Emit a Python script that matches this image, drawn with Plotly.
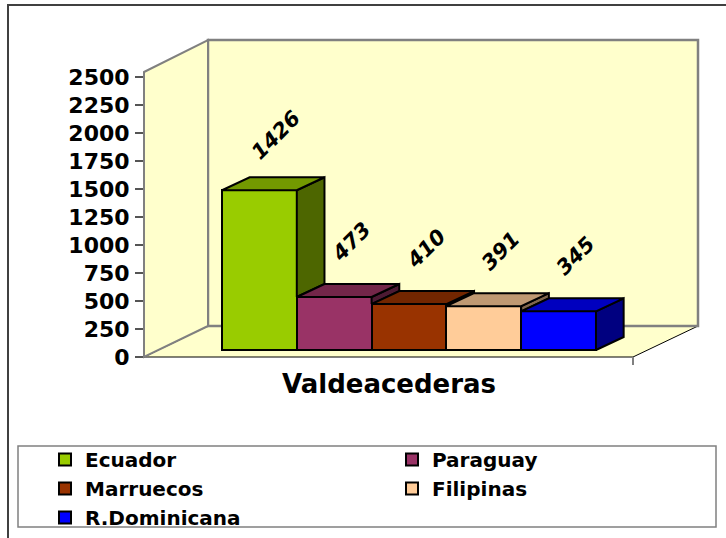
import plotly.graph_objects as go

# ---------------- data ----------------
series = ["Ecuador", "Paraguay", "Marruecos", "Filipinas", "R.Dominicana"]
values = [1426, 473, 410, 391, 345]
category = "Valdeacederas"
y_ticks = [0, 250, 500, 750, 1000, 1250, 1500, 1750, 2000, 2250, 2500]

front_colors = ["#99CC00", "#993366", "#993300", "#FFCC99", "#0000FF"]
top_colors = ["#739900", "#732649", "#732600", "#BF9973", "#0000BF"]
side_colors = ["#4D6600", "#4D1A33", "#4D1A00", "#80664D", "#000080"]

# ---------------- 3D look (style constants) ----------------
BAR_BASE = 62.5      # bars sit slightly behind the front edge of the floor
DEPTH_X = 0.37       # bar depth offset in x units
DEPTH_Y = 116        # bar depth offset in value units
X_RANGE = [-1.543, 5.864]
Y_RANGE = [0, 2830]

W, H = 726, 538
ML, MR, MT, MB = 144, 28, 40, 181
PW, PH = W - ML - MR, H - MT - MB


def px(x):
    return (x - ML) / PW


def py(y):
    return (MT + PH - y) / PH


def poly(points):
    return "M " + " L ".join(f"{px(a):.5f},{py(b):.5f}" for a, b in points) + " Z"


FONT = "DejaVu Sans"
fig = go.Figure()

# front faces (bars)
for i, (name, v) in enumerate(zip(series, values)):
    fig.add_trace(go.Bar(
        x=[i], y=[v], base=[BAR_BASE], width=1, name=name,
        marker=dict(color=front_colors[i], line=dict(color="black", width=2)),
        hoverinfo="skip",
    ))

# side and top faces
for i, v in enumerate(values):
    top = BAR_BASE + v
    x0, x1 = i - 0.5, i + 0.5
    nxt = BAR_BASE + values[i + 1] if i + 1 < len(values) else BAR_BASE
    low = max(nxt, BAR_BASE)
    if low < top:
        fig.add_trace(go.Scatter(
            x=[x1, x1, x1 + DEPTH_X, x1 + DEPTH_X, x1],
            y=[low, top, top + DEPTH_Y, low + DEPTH_Y, low],
            mode="lines", fill="toself", fillcolor=side_colors[i],
            line=dict(color="black", width=2), showlegend=False, hoverinfo="skip",
        ))
    fig.add_trace(go.Scatter(
        x=[x0, x1, x1 + DEPTH_X, x0 + DEPTH_X, x0],
        y=[top, top, top + DEPTH_Y, top + DEPTH_Y, top],
        mode="lines", fill="toself", fillcolor=top_colors[i],
        line=dict(color="black", width=2), showlegend=False, hoverinfo="skip",
    ))

# data labels
annotations = []
for i, v in enumerate(values):
    annotations.append(dict(
        x=i, y=BAR_BASE + v, xref="x", yref="y", text=str(v), showarrow=False,
        textangle=-45, xshift=17, yshift=55,
        font=dict(family=FONT, size=21, color="black", weight="bold", style="italic"),
    ))

annotations.append(dict(
    x=px(389), y=py(384), xref="paper", yref="paper", text=category, showarrow=False,
    xanchor="center", yanchor="middle",
    font=dict(family=FONT, size=26, color="black", weight="bold"),
))

WALL = "#FFFFCC"
EDGE = "#808080"
shapes = [
    # outer chart border
    dict(type="rect", xref="paper", yref="paper", x0=px(8), y0=py(5), x1=px(760), y1=py(580),
         line=dict(color="#404040", width=2), fillcolor="rgba(0,0,0,0)", layer="below"),
    # floor
    dict(type="path", xref="paper", yref="paper",
         path=poly([(144, 357), (633, 357), (698, 326), (208, 326)]),
         fillcolor=WALL, line=dict(color="black", width=1), layer="below"),
    # back wall
    dict(type="path", xref="paper", yref="paper",
         path=poly([(208, 40), (698, 40), (698, 326), (208, 326)]),
         fillcolor=WALL, line=dict(color=EDGE, width=2.5), layer="below"),
    # left wall
    dict(type="path", xref="paper", yref="paper",
         path=poly([(144, 72), (208, 40), (208, 326), (144, 357)]),
         fillcolor=WALL, line=dict(color=EDGE, width=2), layer="below"),
    # tick at end of category axis
    dict(type="line", xref="paper", yref="paper", x0=px(633), y0=py(357), x1=px(633), y1=py(365),
         line=dict(color=EDGE, width=2), layer="below"),
    # legend box
    dict(type="rect", xref="paper", yref="paper", x0=px(18), y0=py(446), x1=px(716), y1=py(527),
         line=dict(color=EDGE, width=1.5), fillcolor="white", layer="below"),
]

fig.update_layout(
    width=W, height=H,
    margin=dict(l=ML, r=MR, t=MT, b=MB, autoexpand=False),
    paper_bgcolor="white", plot_bgcolor="rgba(0,0,0,0)",
    barmode="overlay", bargap=0,
    showlegend=True,
    legend=dict(
        orientation="h", x=px(45), y=py(440), xanchor="left", yanchor="top",
        entrywidth=302, bgcolor="rgba(0,0,0,0)", borderwidth=0,
        font=dict(family=FONT, size=20, color="black", weight="bold"),
        traceorder="normal",
    ),
    xaxis=dict(range=X_RANGE, visible=False, fixedrange=True),
    yaxis=dict(
        range=Y_RANGE, tickvals=y_ticks, ticktext=[str(t) for t in y_ticks],
        ticks="outside", ticklen=8, tickwidth=1.5, tickcolor="#555555",
        ticklabelstandoff=1,
        tickfont=dict(family=FONT, size=22, color="black", weight="bold"),
        showgrid=False, zeroline=False, showline=False, fixedrange=True,
    ),
    shapes=shapes,
    annotations=annotations,
)

fig.write_html(
    "out.html",
    config={"displayModeBar": False},
    post_script="document.body.style.margin='0';document.body.style.padding='0';",
)
